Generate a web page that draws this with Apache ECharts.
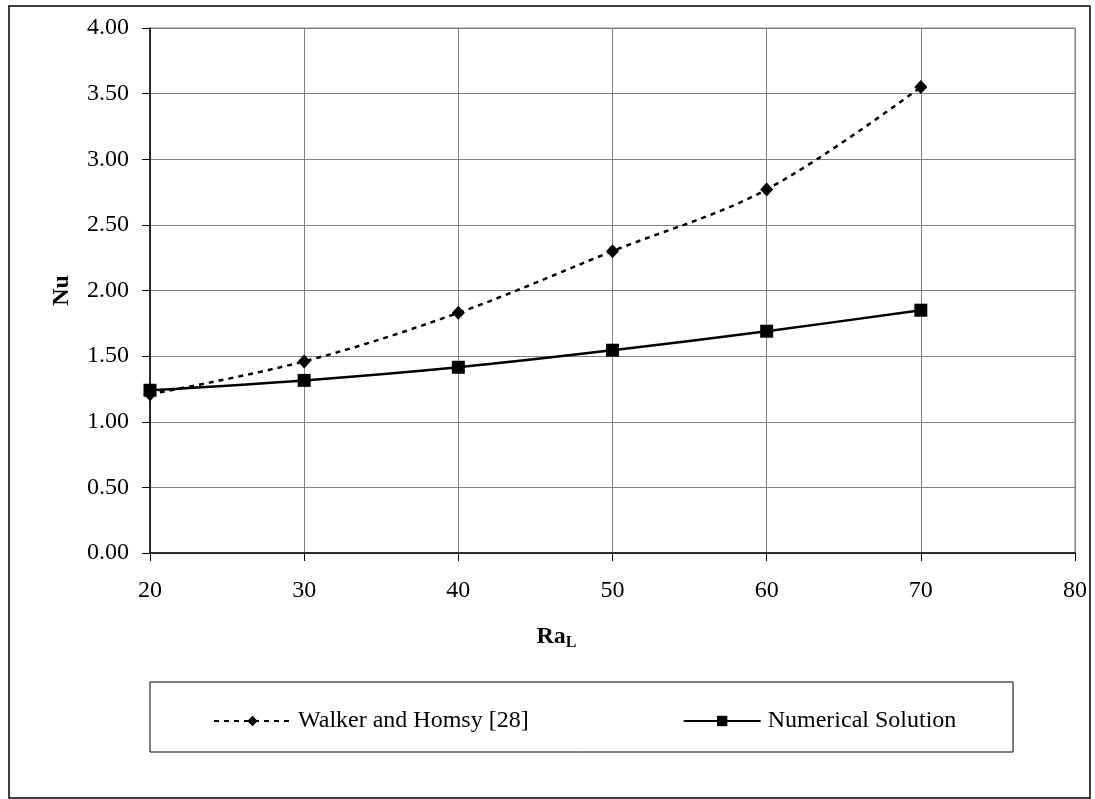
<!DOCTYPE html>
<html>
<head>
<meta charset="utf-8">
<script src="https://cdn.jsdelivr.net/npm/echarts@6/dist/echarts.min.js"></script>
<style>
  html, body { margin: 0; padding: 0; background: #fff; }
  #chart { width: 1095px; height: 799px; }
</style>
</head>
<body>
<div id="chart"></div>
<script>
// Nusselt number versus Rayleigh number
const raValues = [20, 30, 40, 50, 60, 70];
const walkerHomsy = [1.21, 1.46, 1.83, 2.30, 2.77, 3.55];
const numerical = [1.24, 1.315, 1.415, 1.545, 1.69, 1.85];
const seriesNames = ['Walker and Homsy [28]', 'Numerical Solution'];

const FONT = '"Liberation Serif", "Times New Roman", serif';
const FS = 24;

const chart = echarts.init(document.getElementById('chart'), null, { renderer: 'canvas' });

chart.setOption({
  backgroundColor: '#ffffff',
  animation: false,
  textStyle: { fontFamily: FONT, color: '#000' },
  graphic: [
    {
      // outer chart-area frame
      type: 'rect',
      shape: { x: 9, y: 6, width: 1081, height: 792 },
      style: { fill: 'none', stroke: '#000', lineWidth: 1.5 },
      z: -1
    },
    {
      // legend frame
      type: 'rect',
      shape: { x: 150, y: 682, width: 863, height: 70 },
      style: { fill: 'none', stroke: '#000', lineWidth: 1 },
      z: -1
    }
  ],
  grid: { left: 150, right: 20, top: 28, bottom: 246, containLabel: false,
          show: true, borderColor: '#808080', borderWidth: 1 },
  legend: {
    data: seriesNames,
    left: 208,
    top: 704,
    itemWidth: 77,
    itemHeight: 13,
    itemGap: 154,
    textStyle: { fontFamily: FONT, fontSize: FS, color: '#000', padding: [0, 0, 0, 2] }
  },
  xAxis: {
    type: 'value',
    min: 20,
    max: 80,
    interval: 10,
    name: '{a|Ra}{b|L}',
    nameLocation: 'middle',
    nameGap: 70,
    nameTextStyle: {
      padding: [0, 112, 0, 0],
      rich: {
        a: { fontFamily: FONT, fontSize: FS, fontWeight: 'bold', color: '#000' },
        b: { fontFamily: FONT, fontSize: 16, fontWeight: 'bold', color: '#000', padding: [12, 0, 0, 0] }
      }
    },
    axisLine: { show: true, onZero: false, lineStyle: { color: '#000', width: 1.5 } },
    axisTick: { show: true, length: 8, lineStyle: { color: '#000', width: 1 } },
    axisLabel: { fontFamily: FONT, fontSize: FS, color: '#000', margin: 26 },
    splitLine: { show: true, lineStyle: { color: '#808080', width: 1 } }
  },
  yAxis: {
    type: 'value',
    min: 0,
    max: 4,
    interval: 0.5,
    name: 'Nu',
    nameLocation: 'middle',
    nameGap: 76,
    nameTextStyle: { fontFamily: FONT, fontSize: FS, fontWeight: 'bold', color: '#000' },
    axisLine: { show: true, onZero: false, lineStyle: { color: '#000', width: 1.5 } },
    axisTick: { show: true, length: 8, lineStyle: { color: '#000', width: 1 } },
    axisLabel: {
      fontFamily: FONT, fontSize: FS, color: '#000', margin: 21,
      formatter: v => v.toFixed(2)
    },
    splitLine: { show: true, lineStyle: { color: '#808080', width: 1 } }
  },
  series: [
    {
      name: seriesNames[0],
      type: 'line',
      data: raValues.map((x, i) => [x, walkerHomsy[i]]),
      smooth: 0.35,
      symbol: 'diamond',
      symbolSize: [13, 14],
      itemStyle: { color: '#000' },
      lineStyle: { color: '#000', width: 2.5, type: [5, 5] },
      z: 3
    },
    {
      name: seriesNames[1],
      type: 'line',
      data: raValues.map((x, i) => [x, numerical[i]]),
      smooth: 0.35,
      symbol: 'rect',
      symbolSize: 13,
      itemStyle: { color: '#000' },
      lineStyle: { color: '#000', width: 2.5, type: 'solid' },
      z: 4
    }
  ]
});
</script>
</body>
</html>
